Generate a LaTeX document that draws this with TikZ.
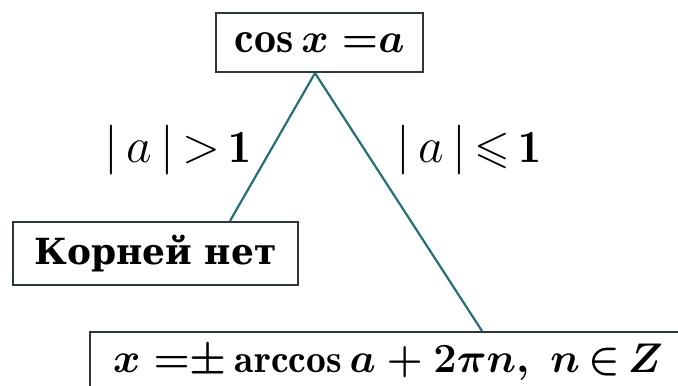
\documentclass[tikz,border=0pt]{standalone}
\usepackage{amssymb}
\usepackage{fontspec}
\newfontfamily\cyrfont{DejaVu Serif}
\definecolor{linecol}{RGB}{40,110,120}
\definecolor{boxcol}{RGB}{45,55,60}
\begin{document}
\begin{tikzpicture}[x=0.5pt, y=-0.5pt,
         box/.style={draw=boxcol, line width=1.1pt, fill=white, inner sep=0pt},
         branch/.style={linecol, line width=1.1pt},
         cond/.style={font=\fontsize{23}{27}\selectfont\unboldmath},
         every node/.style={font=\fontsize{22}{26}\selectfont\boldmath}
      ]
   \clip (0,0) rectangle (678,385);

   \node[box, minimum width=103.5pt, minimum height=29.5pt] (eq) at (319.5,42.5) {$\cos x\ {=}a$};
   \node[box, minimum width=142.5pt, minimum height=31.5pt,
         font=\cyrfont\bfseries\fontsize{18}{22}\selectfont] (nores) at (155.5,253.5) {Корней нет};
   \node[box, anchor=north west, align=left, text width=300pt, inner xsep=11.5pt,
         inner ysep=5pt, text height=15pt, text depth=30pt, font=\fontsize{19.8}{24}\selectfont\boldmath]
         (sol) at (89,331) {$x\ {=}{\pm}\arccos a + 2\pi n,\ n\,{\in}\,Z$};

   \node[cond] (big) at (178,150) {$|\,a\,|\,{>}\,\mathbf{1}$};
   \node[cond] (small) at (469,150) {$|\,a\,|\,{\leqslant}\,\mathbf{1}$};

   \begin{scope}[branch]
      \draw ([xshift=-2.25pt]eq.south) -- ([xshift=37.25pt]nores.north);
      \draw ([xshift=-2.25pt]eq.south) -- ([xshift=196.5pt]sol.north west);
   \end{scope}
\end{tikzpicture}
\end{document}
